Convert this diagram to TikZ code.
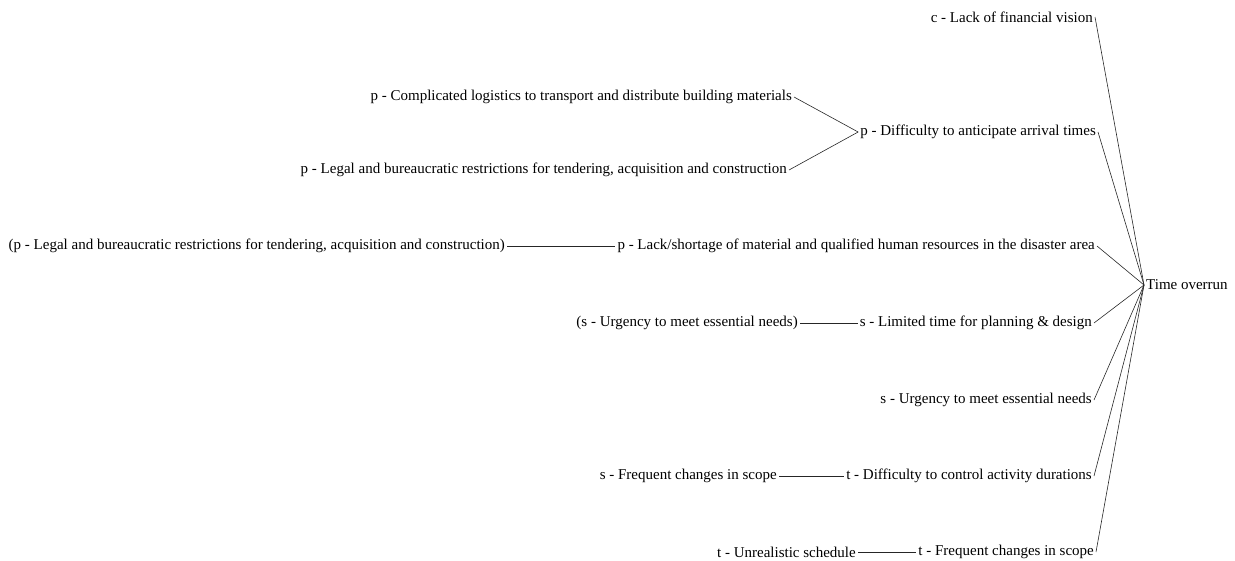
\documentclass[tikz,border=0pt]{standalone}
\usepackage{fontspec}
\setmainfont{Liberation Serif}
\usetikzlibrary{positioning}
\tikzset{
  cause/.style={
    inner sep=2pt, font=\fontsize{15}{17}\selectfont,
    anchor=east
  },
  effect/.style={
    inner sep=2pt, font=\fontsize{15}{17}\selectfont,
    anchor=west
  },
  link/.style={line width=0.6pt, black!85}
}
\begin{document}
\begin{tikzpicture}[x=1pt, y=-1pt]
  \useasboundingbox (0,0) rectangle (1235,560);

  % final effect
  \node[effect] (overrun) at (1144,285) {Time overrun};

  % direct causes
  \node[cause] (finvision)  at (1095,17)  {c - Lack of financial vision};
  \node[cause] (arrival)    at (1098,132) {p - Difficulty to anticipate arrival times};
  \node[cause] (shortage)   at (1097,246) {p - Lack/shortage of material and qualified human resources in the disaster area};
  \node[cause] (limited)    at (1094,323) {s - Limited time for planning \& design};
  \node[cause] (urgency)    at (1094,400) {s - Urgency to meet essential needs};
  \node[cause] (durations)  at (1094,476) {t - Difficulty to control activity durations};
  \node[cause] (scope)      at (1096,552) {t - Frequent changes in scope};

  % second level causes
  \node[cause] (logistics)  at (794,97)   {p - Complicated logistics to transport and distribute building materials};
  \node[cause] (legal)      at (789,170)  {p - Legal and bureaucratic restrictions for tendering, acquisition and construction};
  \node[cause] (legalref)   at (507,246)  {(p - Legal and bureaucratic restrictions for tendering, acquisition and construction)};
  \node[cause] (urgencyref) at (800,323)  {(s - Urgency to meet essential needs)};
  \node[cause] (changes)    at (779,476)  {s - Frequent changes in scope};
  \node[cause] (schedule)   at (858,552)  {t - Unrealistic schedule};

  % links to time overrun
  \foreach \n in {finvision, arrival, shortage, limited, urgency, durations, scope}
    \draw[link] (\n.east) -- (overrun.west);

  % links between causes
  \draw[link] (logistics.east)  -- (arrival.west);
  \draw[link] (legal.east)      -- (arrival.west);
  \draw[link] (legalref.east)   -- (shortage.west);
  \draw[link] (urgencyref.east) -- (limited.west);
  \draw[link] (changes.east)    -- (durations.west);
  \draw[link] (schedule.east)   -- (scope.west);
\end{tikzpicture}
\end{document}
